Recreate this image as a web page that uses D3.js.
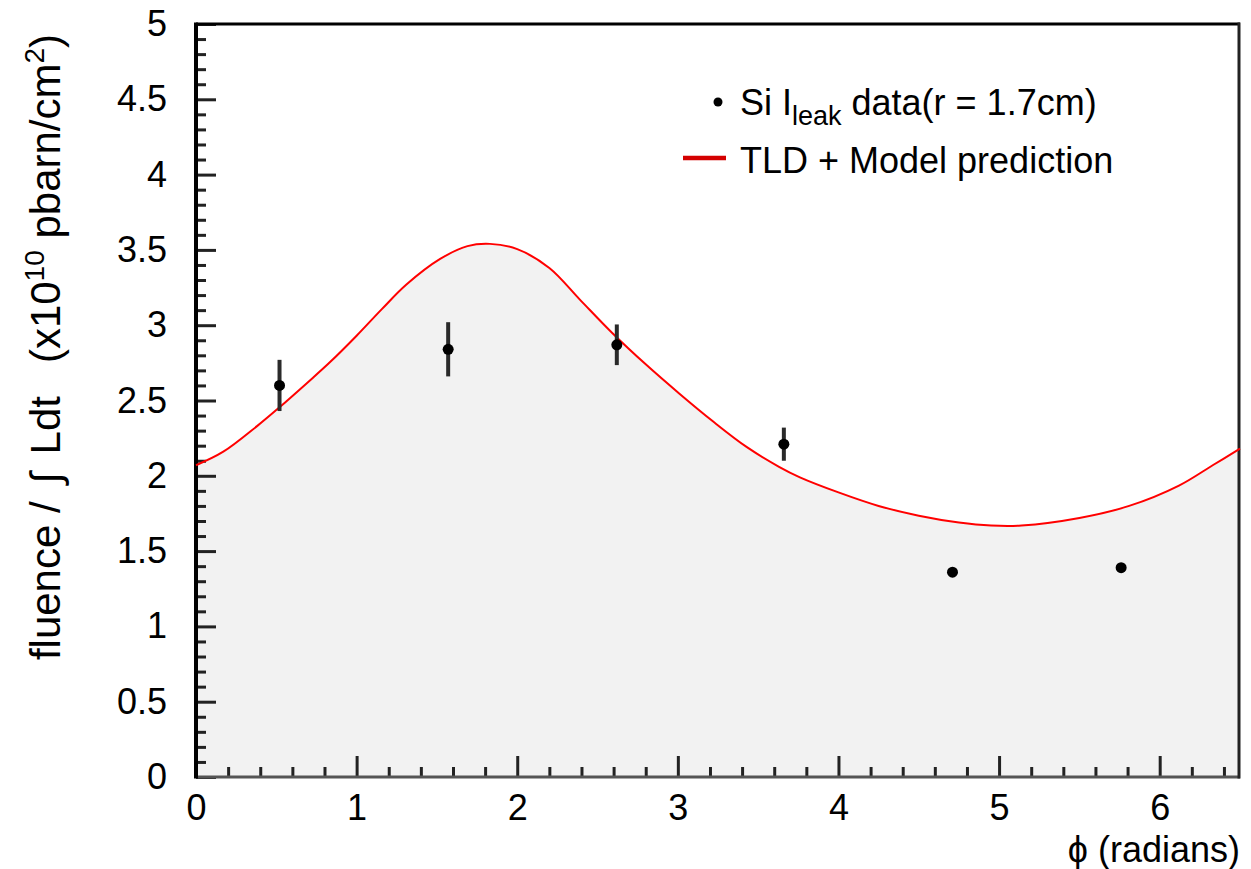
<!DOCTYPE html>
<html>
<head>
<meta charset="utf-8">
<script src="https://cdn.jsdelivr.net/npm/d3@7"></script>
<style>
  body { margin: 0; background: #fff; }
  svg text { font-family: "Liberation Sans", Arial, Helvetica, sans-serif; fill: #000; }
</style>
</head>
<body>
<div id="chart"></div>
<script>
// model curve (phi in radians, fluence in 1e10 pbarn/cm2)
var modelPhi = [0, 0.17, 0.38, 0.52, 0.69, 0.83, 1.0, 1.16, 1.31, 1.52, 1.69, 1.83, 2.0, 2.2, 2.39,
                2.59, 2.8, 3.01, 3.22, 3.43, 3.63, 3.76, 4.0, 4.25, 4.5, 4.75, 4.95, 5.14, 5.5,
                5.81, 6.12, 6.33, 6.5];
var modelFluence = [2.07, 2.16, 2.33, 2.455, 2.615, 2.75, 2.93, 3.11, 3.27, 3.44, 3.525, 3.54, 3.505, 3.38, 3.17,
                    2.95, 2.74, 2.545, 2.36, 2.19, 2.06, 1.99, 1.89, 1.80, 1.735, 1.69, 1.67, 1.67, 1.72,
                    1.80, 1.935, 2.07, 2.18];

// Si leakage current data points
var dataPhi = [0.52, 1.57, 2.62, 3.66, 4.71, 5.76];
var dataFluence = [2.60, 2.84, 2.87, 2.21, 1.36, 1.39];
var dataErr = [0.17, 0.18, 0.135, 0.11, 0, 0];

var xMajor = [0, 1, 2, 3, 4, 5, 6];
var yMajor = [0, 0.5, 1, 1.5, 2, 2.5, 3, 3.5, 4, 4.5, 5];

var width = 1251, height = 869;
var margin = {top: 24, right: 11, bottom: 92, left: 196};

var svg = d3.select("#chart").append("svg")
    .attr("width", width)
    .attr("height", height);

var x = d3.scaleLinear().domain([0, 6.5]).range([margin.left, width - margin.right]);
var y = d3.scaleLinear().domain([0, 5]).range([height - margin.bottom, margin.top]);

var model = modelPhi.map(function(p, i){ return {phi: p, v: modelFluence[i]}; });
var points = dataPhi.map(function(p, i){ return {phi: p, v: dataFluence[i], e: dataErr[i]}; });

var smooth = d3.curveCatmullRom.alpha(0.5);

// grey fill under the model
var area = d3.area()
    .x(function(d){ return x(d.phi); })
    .y0(y(0))
    .y1(function(d){ return y(d.v); })
    .curve(smooth);

svg.append("path")
    .datum(model)
    .attr("d", area)
    .attr("fill", "#f2f2f2");

// ticks (inside the frame)
var xMinor = d3.range(0, 6.5, 0.2).filter(function(v){ return Math.abs(v - Math.round(v)) > 1e-6; });
var yMinor = d3.range(0, 5, 0.1).filter(function(v){ return Math.abs(v * 2 - Math.round(v * 2)) > 1e-6; });

svg.append("g")
    .attr("class", "x-minor")
    .attr("transform", "translate(0," + y(0) + ")")
    .call(d3.axisTop(x).tickValues(xMinor).tickSize(10).tickFormat(""));
svg.append("g")
    .attr("class", "x-major")
    .attr("transform", "translate(0," + y(0) + ")")
    .call(d3.axisTop(x).tickValues(xMajor).tickSize(21).tickFormat(""));
svg.append("g")
    .attr("class", "y-minor")
    .attr("transform", "translate(" + x(0) + ",0)")
    .call(d3.axisRight(y).tickValues(yMinor).tickSize(10).tickFormat(""));
svg.append("g")
    .attr("class", "y-major")
    .attr("transform", "translate(" + x(0) + ",0)")
    .call(d3.axisRight(y).tickValues(yMajor).tickSize(20).tickFormat(""));

svg.selectAll(".x-minor .domain, .x-major .domain, .y-minor .domain, .y-major .domain").remove();
svg.selectAll(".x-minor line, .x-major line, .y-minor line, .y-major line")
    .attr("stroke", "#222")
    .attr("stroke-width", 3);

// tick labels
var xLab = svg.append("g")
    .attr("transform", "translate(0," + y(0) + ")")
    .call(d3.axisBottom(x).tickValues(xMajor).tickSize(0).tickPadding(17).tickFormat(d3.format("d")));
var yLab = svg.append("g")
    .attr("transform", "translate(" + x(0) + ",0)")
    .call(d3.axisLeft(y).tickValues(yMajor).tickSize(0).tickPadding(29).tickFormat(function(d){ return String(d); }));
[xLab, yLab].forEach(function(g){
    g.select(".domain").remove();
    g.selectAll("text")
        .attr("font-size", 36)
        .attr("font-family", "Liberation Sans, Arial, sans-serif")
        .attr("fill", "#000");
});

// frame
svg.append("line").attr("x1", x(0)).attr("x2", x(6.5)).attr("y1", y(0)).attr("y2", y(0))
    .attr("stroke", "#555").attr("stroke-width", 3);
svg.append("line").attr("x1", x(0)).attr("x2", x(6.5)).attr("y1", y(5)).attr("y2", y(5))
    .attr("stroke", "#000").attr("stroke-width", 3);
svg.append("line").attr("x1", x(0)).attr("x2", x(0)).attr("y1", y(5) - 1.5).attr("y2", y(0) + 1.5)
    .attr("stroke", "#000").attr("stroke-width", 4);
svg.append("line").attr("x1", x(6.5) - 1).attr("x2", x(6.5) - 1).attr("y1", y(5) - 1.5).attr("y2", y(0) + 1.5)
    .attr("stroke", "#222").attr("stroke-width", 3);

// model line
var line = d3.line()
    .x(function(d){ return x(d.phi); })
    .y(function(d){ return y(d.v); })
    .curve(smooth);

svg.append("path")
    .datum(model)
    .attr("d", line)
    .attr("fill", "none")
    .attr("stroke", "#ff0000")
    .attr("stroke-width", 2);

// data points with error bars
svg.selectAll(".ebar")
    .data(points.filter(function(d){ return d.e > 0; }))
    .enter().append("line")
    .attr("class", "ebar")
    .attr("x1", function(d){ return x(d.phi); })
    .attr("x2", function(d){ return x(d.phi); })
    .attr("y1", function(d){ return y(d.v + d.e); })
    .attr("y2", function(d){ return y(d.v - d.e); })
    .attr("stroke", "#2a2a2a")
    .attr("stroke-width", 4);

svg.selectAll(".pt")
    .data(points)
    .enter().append("circle")
    .attr("class", "pt")
    .attr("cx", function(d){ return x(d.phi); })
    .attr("cy", function(d){ return y(d.v); })
    .attr("r", 5.5)
    .attr("fill", "#000");

// legend
svg.append("circle").attr("cx", 718).attr("cy", 102).attr("r", 4.5).attr("fill", "#000");
var t1 = svg.append("text").attr("x", 740).attr("y", 115).attr("font-size", 36);
t1.append("tspan").text("Si I");
t1.append("tspan").attr("dy", 10).attr("font-size", 27).text("leak");
t1.append("tspan").attr("dy", -10).text(" data(r = 1.7cm)");

svg.append("line").attr("x1", 683).attr("x2", 726).attr("y1", 158).attr("y2", 158)
    .attr("stroke", "#d40000").attr("stroke-width", 4.5);
svg.append("text").attr("x", 740).attr("y", 173).attr("font-size", 36).text("TLD + Model prediction");

// axis titles
svg.append("text")
    .attr("x", 1240).attr("y", 862)
    .attr("text-anchor", "end")
    .attr("font-size", 36)
    .text("\u03D5 (radians)");

var yt = svg.append("text")
    .attr("transform", "translate(60,347) rotate(-90)")
    .attr("text-anchor", "middle")
    .attr("font-size", 42);
yt.append("tspan").text("fluence /");
yt.append("tspan").attr("dx", 6).text(" \u222B");
yt.append("tspan").attr("dx", 6).text(" Ldt");
yt.append("tspan").attr("dx", 33).text("(x10");
yt.append("tspan").attr("dy", -16).attr("font-size", 28).text("10");
yt.append("tspan").attr("dy", 16).text(" pbarn/cm");
yt.append("tspan").attr("dy", -16).attr("font-size", 28).text("2");
yt.append("tspan").attr("dy", 16).text(")");
</script>
</body>
</html>
